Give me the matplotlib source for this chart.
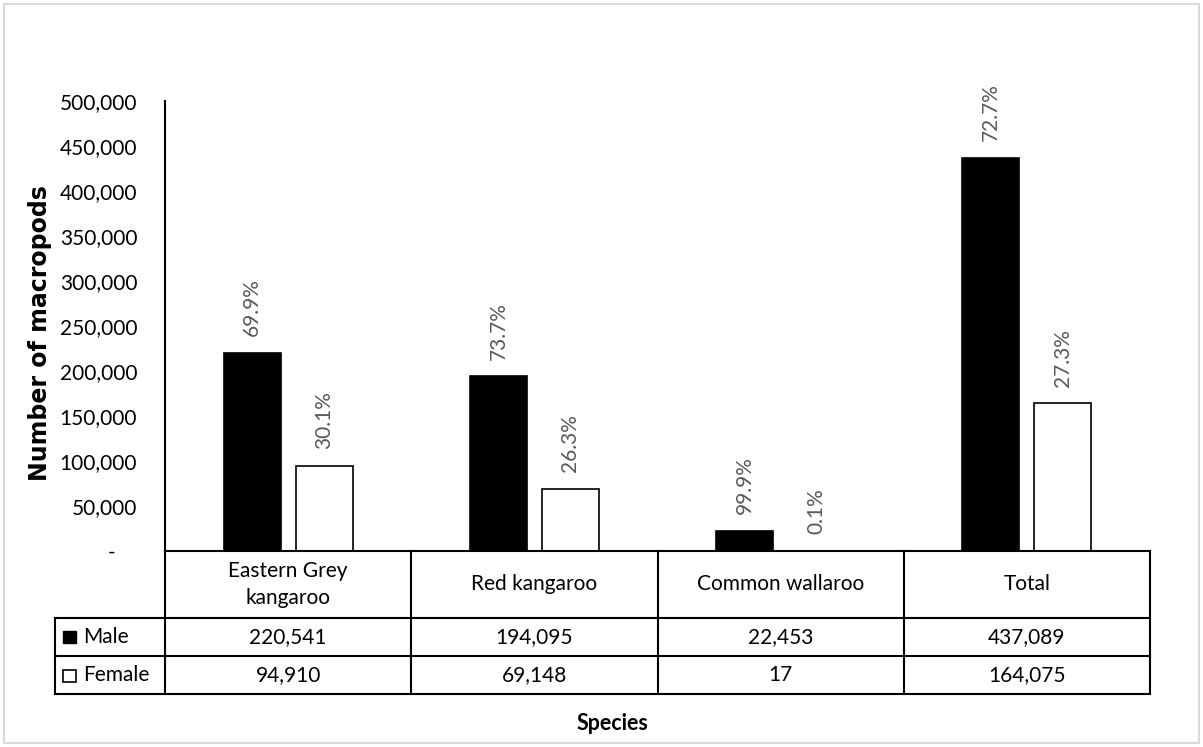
import matplotlib.pyplot as plt
from matplotlib.patches import Rectangle
from matplotlib.ticker import FuncFormatter
import matplotlib.transforms as mtransforms

# data
species = ['Eastern Grey\nkangaroo', 'Red kangaroo', 'Common wallaroo', 'Total']
male = [220541, 194095, 22453, 437089]
female = [94910, 69148, 17, 164075]
male_pct = ['69.9%', '73.7%', '99.9%', '72.7%']
female_pct = ['30.1%', '26.3%', '0.1%', '27.3%']
yticks = [0, 50000, 100000, 150000, 200000, 250000, 300000, 350000, 400000, 450000, 500000]

plt.rcParams['font.family'] = ['Lato', 'DejaVu Sans']

W, H = 1203, 747
fig = plt.figure(figsize=(W / 100, H / 100), dpi=100)

# axes box in pixels: x 165..1150, y 101..551
ax = fig.add_axes([165 / W, (H - 551) / H, (1150 - 165) / W, (551 - 101) / H])

n = len(species)
x = list(range(n))
bw = 0.232
off = 0.146

ax.bar([i - off for i in x], male, width=bw, color='black', edgecolor='black', linewidth=1.2)
ax.bar([i + off for i in x], female, width=bw, color='white', edgecolor='black', linewidth=1.2)

for i in x:
    ax.annotate(male_pct[i], (i - off, male[i]), xytext=(0, 12), textcoords='offset points',
                rotation=90, ha='center', va='bottom', fontsize=15, color='#595959')
    ax.annotate(female_pct[i], (i + off, female[i]), xytext=(0, 12), textcoords='offset points',
                rotation=90, ha='center', va='bottom', fontsize=15, color='#595959')

ax.set_xlim(-0.5, n - 0.5)
ax.set_ylim(0, 500000)
ax.set_yticks(yticks)
ax.yaxis.set_major_formatter(FuncFormatter(lambda v, p: '-    ' if v == 0 else f'{int(v):,}'))
ax.tick_params(axis='y', length=0, labelsize=15, pad=20)
ax.tick_params(axis='x', length=0, labelbottom=False)
for s in ['top', 'right']:
    ax.spines[s].set_visible(False)
ax.spines['left'].set_linewidth(1.5)
ax.spines['bottom'].set_linewidth(1.5)

ax.set_ylabel('Number of macropods', fontsize=17, fontweight='bold',
              family=['DejaVu Sans'])
ax.yaxis.set_label_coords(-0.115, 0.485)

# data table under the axis
tr = mtransforms.blended_transform_factory(ax.transData, ax.transAxes)
ah = 551 - 101
cw = (1150 - 165) / n
y_head = -(618 - 551) / ah
y_male = -(656 - 551) / ah
y_fem = -(694 - 551) / ah
x_left = -0.5 - (165 - 55) / cw
lk = dict(color='black', lw=1.5, transform=tr, clip_on=False, solid_capstyle='projecting')

for b in [i - 0.5 for i in range(n + 1)]:
    ax.plot([b, b], [0, y_fem], **lk)
for yy in [y_head, y_male, y_fem]:
    ax.plot([x_left, n - 0.5], [yy, yy], **lk)
ax.plot([x_left, x_left], [y_head, y_fem], **lk)

for i in x:
    ax.text(i, y_head / 2, species[i], transform=tr, ha='center', va='center',
            fontsize=15, linespacing=1.4)
    ax.text(i, (y_head + y_male) / 2, f'{male[i]:,}', transform=tr, ha='center',
            va='center', fontsize=15)
    ax.text(i, (y_male + y_fem) / 2, f'{female[i]:,}', transform=tr, ha='center',
            va='center', fontsize=15)

# legend keys in the table's first column (pixel boxes)
fig.patches.append(Rectangle((63 / W, 1 - 643 / H), 13 / W, 12 / H, transform=fig.transFigure,
                             facecolor='black', edgecolor='black', linewidth=1))
fig.patches.append(Rectangle((63 / W, 1 - 682 / H), 13 / W, 12 / H, transform=fig.transFigure,
                             facecolor='white', edgecolor='black', linewidth=1.2))
ax.text(x_left + 28 / cw, (y_head + y_male) / 2, 'Male', transform=tr, ha='left',
        va='center', fontsize=15)
ax.text(x_left + 28 / cw, (y_male + y_fem) / 2, 'Female', transform=tr, ha='left',
        va='center', fontsize=15)

fig.text(612 / W, 1 - 723 / H, 'Species', ha='center', va='center', fontsize=15.5,
         fontweight='bold')

# light frame round the chart
fig.patches.append(Rectangle((4 / W, 4 / H), 1 - 8 / W, 1 - 8 / H, transform=fig.transFigure,
                             fill=False, edgecolor='#d9d9d9', linewidth=1.5))

fig.savefig('out.png', dpi=100)
